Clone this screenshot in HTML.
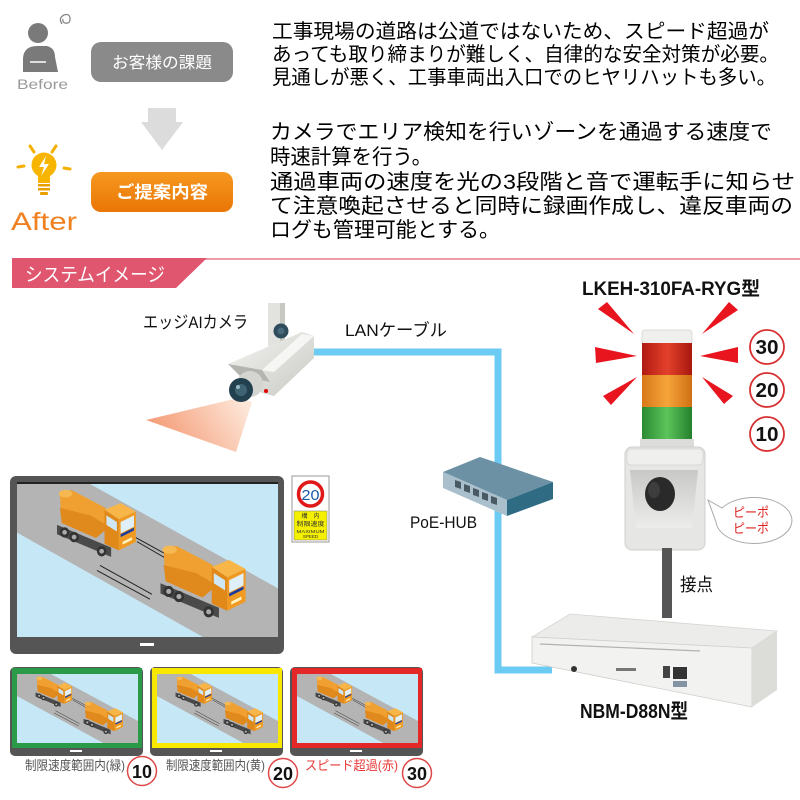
<!DOCTYPE html>
<html><head><meta charset="utf-8"><style>
html,body{margin:0;padding:0;background:#fff;width:800px;height:800px;overflow:hidden}
svg{display:block}
text{font-family:"Liberation Sans","Noto Sans CJK JP",sans-serif}
</style></head><body>
<svg width="800" height="800" viewBox="0 0 800 800" xmlns="http://www.w3.org/2000/svg">
<defs>
<linearGradient id="og" x1="0" y1="0" x2="0" y2="1"><stop offset="0" stop-color="#f6981f"/><stop offset="1" stop-color="#ea7606"/></linearGradient>
<linearGradient id="cone" x1="240" y1="398" x2="170" y2="445" gradientUnits="userSpaceOnUse"><stop offset="0" stop-color="#fde6d8"/><stop offset="1" stop-color="#f5a07c"/></linearGradient>
<linearGradient id="camb" x1="0" y1="0" x2="1" y2="1"><stop offset="0" stop-color="#f4f4f2"/><stop offset="1" stop-color="#c9c9c4"/></linearGradient>
<linearGradient id="red" x1="0" y1="0" x2="1" y2="0"><stop offset="0" stop-color="#b01a10"/><stop offset=".5" stop-color="#e4412c"/><stop offset="1" stop-color="#a8180e"/></linearGradient>
<linearGradient id="org" x1="0" y1="0" x2="1" y2="0"><stop offset="0" stop-color="#d8781a"/><stop offset=".5" stop-color="#f6a43a"/><stop offset="1" stop-color="#d07014"/></linearGradient>
<linearGradient id="grn" x1="0" y1="0" x2="1" y2="0"><stop offset="0" stop-color="#2a8a32"/><stop offset=".5" stop-color="#5cc45a"/><stop offset="1" stop-color="#24802c"/></linearGradient>
<linearGradient id="horn" x1="0" y1="0" x2="0" y2="1"><stop offset="0" stop-color="#c8c8c6"/><stop offset="1" stop-color="#ececea"/></linearGradient>
<symbol id="truck" viewBox="0 0 90 80">
  <polygon points="5,38 62,62 62,72 5,48" fill="#4a4a4a"/>
  <ellipse cx="13" cy="46" rx="5" ry="5.5" fill="#333"/><ellipse cx="13" cy="46" rx="2.5" ry="2.5" fill="#aaa"/>
  <ellipse cx="23" cy="51" rx="5" ry="5.5" fill="#333"/><ellipse cx="23" cy="51" rx="2.5" ry="2.5" fill="#aaa"/>
  <ellipse cx="52" cy="66" rx="5" ry="5.5" fill="#333"/><ellipse cx="52" cy="66" rx="2.5" ry="2.5" fill="#aaa"/>
  <polygon points="8,6 20,1 56,20 60,40 46,52 10,36" fill="#f0a030"/>
  <polygon points="10,36 46,52 60,40 40,28 8,20" fill="#e08a1e"/>
  <ellipse cx="14" cy="5" rx="7" ry="4" fill="#f6b850"/>
  <polygon points="55,22 72,15 88,24 70,32" fill="#f8b648"/>
  <polygon points="70,32 88,24 88,56 70,65" fill="#f09a22"/>
  <polygon points="55,22 70,32 70,65 55,58" fill="#e08818"/>
  <polygon points="72,35 86,28 86,40 72,47" fill="#e0f0fa"/>
  <polygon points="57,28 68,35 68,45 57,38" fill="#cfe6f4"/>
  <polygon points="72,48 86,41 86,44 72,51" fill="#1d3c9c"/>
  <polygon points="74,56 84,51 84,54 74,59" fill="#fff3c0"/>
</symbol>
<symbol id="scene" viewBox="0 0 261 154" preserveAspectRatio="none">
  <rect x="0" y="0" width="261" height="154" fill="#c6e8f6"/>
  <polygon points="0,0 73,0 261,105 261,154 186,154 0,49" fill="#b4b4b4"/>
  <use href="#truck" x="35" y="5" width="86" height="76"/>
  <line x1="119" y1="54" x2="173" y2="84" stroke="#222" stroke-width="1"/>
  <line x1="120" y1="58" x2="168" y2="86" stroke="#222" stroke-width="1"/>
  <line x1="83" y1="82" x2="135" y2="111" stroke="#222" stroke-width="1"/>
  <line x1="80" y1="87" x2="133" y2="116" stroke="#222" stroke-width="1"/>
  <use href="#truck" x="138" y="61" width="93" height="82"/>
</symbol>
</defs>

<!-- Before / After -->
<circle cx="38" cy="33" r="10" fill="#7a7a7a"/>
<path d="M23,72 L23,58 Q24,46 37,46 L47,46 Q55,48 55,57 L58,72 Z" fill="#7a7a7a"/>
<path d="M30,62 L46,62" stroke="#fff" stroke-width="1.5"/>
<path d="M47,45 L50,36" stroke="#fff" stroke-width="2"/>
<path d="M62,24 q-4,-6 2,-9 q6,-2 6,4 q0,5 -5,4 q-3,-1 -2,-4" fill="none" stroke="#888" stroke-width="1.3"/>
<text x="17" y="89" font-size="14" fill="#9a9a9a" textLength="51" lengthAdjust="spacingAndGlyphs">Before</text>
<rect x="91" y="42" width="142" height="40" rx="10" fill="#8a8a8a"/>
<text x="162" y="68" font-size="16" fill="#fff" text-anchor="middle" textLength="100" lengthAdjust="spacingAndGlyphs">お客様の課題</text>
<polygon points="148,108 176,108 176,122 183,122 162,150 141,122 148,122" fill="#dcdcdc"/>
<g stroke="#f4b000" stroke-width="3" stroke-linecap="round">
<line x1="30" y1="146" x2="34" y2="152"/><line x1="56" y1="146" x2="52" y2="152"/>
<line x1="18" y1="167" x2="24" y2="166"/><line x1="64" y1="168" x2="70" y2="169"/>
</g>
<circle cx="44" cy="165" r="12.5" fill="#f7b500"/>
<rect x="38" y="173" width="12" height="10" fill="#f7b500"/>
<rect x="38" y="184" width="12" height="2.5" fill="#e8a000"/>
<rect x="38" y="188" width="12" height="2.5" fill="#e8a000"/>
<rect x="40" y="192" width="8" height="3" rx="1" fill="#e8a000"/>
<polygon points="46,156 39,167 44,167 41,176 49,164 44,164" fill="#fff"/>
<text x="11" y="230" font-size="25" fill="#f08020" textLength="66" lengthAdjust="spacingAndGlyphs">After</text>
<rect x="91" y="172" width="142" height="40" rx="10" fill="url(#og)"/>
<text x="162" y="198" font-size="17" font-weight="bold" fill="#fff" text-anchor="middle" textLength="92" lengthAdjust="spacingAndGlyphs">ご提案内容</text>

<!-- paragraphs -->
<g font-size="20" fill="#000">
<text x="272" y="38" textLength="497" lengthAdjust="spacingAndGlyphs">工事現場の道路は公道ではないため、スピード超過が</text>
<text x="272" y="61" textLength="507" lengthAdjust="spacingAndGlyphs">あっても取り締まりが難しく、自律的な安全対策が必要。</text>
<text x="272" y="84" textLength="504" lengthAdjust="spacingAndGlyphs">見通しが悪く、工事車両出入口でのヒヤリハットも多い。</text>
</g>
<g font-size="21" fill="#000">
<text x="270" y="139" textLength="502" lengthAdjust="spacingAndGlyphs">カメラでエリア検知を行いゾーンを通過する速度で</text>
<text x="270" y="164" textLength="162" lengthAdjust="spacingAndGlyphs">時速計算を行う。</text>
<text x="270" y="189" textLength="525" lengthAdjust="spacingAndGlyphs">通過車両の速度を光の3段階と音で運転手に知らせ</text>
<text x="270" y="213" textLength="523" lengthAdjust="spacingAndGlyphs">て注意喚起させると同時に録画作成し、違反車両の</text>
<text x="270" y="237" textLength="230" lengthAdjust="spacingAndGlyphs">ログも管理可能とする。</text>
</g>

<!-- header band -->
<line x1="180" y1="259" x2="800" y2="259" stroke="#e67d8e" stroke-width="1.5"/>
<polygon points="12,258 207,258 176,288 12,288" fill="#e0566f"/>
<text x="25" y="281" font-size="19" fill="#fff" textLength="140" lengthAdjust="spacingAndGlyphs">システムイメージ</text>

<!-- LAN cable -->
<g fill="none" stroke="#6ccbf2" stroke-width="7">
<polyline points="312,352 498,352 498,470"/>
<polyline points="498,510 498,670 552,670"/>
</g>
<text x="345" y="336" font-size="17" fill="#111" textLength="102" lengthAdjust="spacingAndGlyphs">LANケーブル</text>

<!-- camera -->
<polygon points="238,398 252,402 236,452 146,420" fill="url(#cone)"/>
<rect x="268" y="303" width="17" height="44" fill="#e2e2de"/>
<rect x="280" y="303" width="5" height="44" fill="#c8c8c2"/>
<circle cx="281" cy="331" r="7.5" fill="#2e4c5c"/><circle cx="281" cy="331" r="3.5" fill="#47697a"/>
<polygon points="228,364 302,332 314,336 314,358 274,396 262,393" fill="url(#camb)"/>
<polygon points="228,364 262,370 270,382 240,376" fill="#b4b4b0"/>
<polygon points="262,370 302,334 314,336 274,372" fill="#f6f6f4"/>
<circle cx="250" cy="384" r="13" fill="#d4d4d0"/>
<circle cx="241" cy="390" r="12" fill="#23404f"/>
<circle cx="241" cy="390" r="6" fill="#3e6474"/>
<circle cx="238" cy="387" r="2" fill="#9bb8c4"/>
<circle cx="266" cy="391" r="2" fill="#e00000"/>
<text x="143" y="328" font-size="17" fill="#111" textLength="105" lengthAdjust="spacingAndGlyphs">エッジAIカメラ</text>

<!-- hub -->
<polygon points="443,472 480,457 553,482 507,500" fill="#6c90a4"/>
<polygon points="443,472 507,500 507,516 443,488" fill="#a9c0cc"/>
<polygon points="507,500 553,482 553,499 507,516" fill="#2f6c84"/>
<g fill="#4a5a64">
<polygon points="455,480 461,482 461,489 455,487"/>
<polygon points="464,484 470,486 470,493 464,491"/>
<polygon points="473,488 479,490 479,497 473,495"/>
<polygon points="482,492 488,494 488,501 482,499"/>
<polygon points="491,496 497,498 497,505 491,503"/>
</g>
<text x="410" y="528" font-size="17" fill="#111" textLength="67" lengthAdjust="spacingAndGlyphs">PoE-HUB</text>

<!-- monitor big -->
<rect x="10" y="476" width="274" height="178" rx="6" fill="#555"/>
<rect x="17" y="482" width="261" height="2" fill="#222"/>
<use href="#scene" x="17" y="484" width="261" height="153"/>
<rect x="140" y="643" width="14" height="3" fill="#fff"/>

<!-- sign -->
<rect x="292" y="476" width="37" height="66" fill="#fff" stroke="#999" stroke-width="1"/>
<circle cx="310.5" cy="494" r="12" fill="#fff" stroke="#e01818" stroke-width="3.5"/>
<text x="310.5" y="500" font-size="15" fill="#1a5aaa" text-anchor="middle" textLength="18" lengthAdjust="spacingAndGlyphs">20</text>
<rect x="294" y="511" width="33" height="29" fill="#f5f000" stroke="#777" stroke-width=".5"/>
<g font-size="6" fill="#333" text-anchor="middle">
<text x="310.5" y="518">構　内</text>
<text x="310.5" y="526" textLength="28" lengthAdjust="spacingAndGlyphs">制限速度</text>
<text x="310.5" y="533" font-size="4.5" textLength="28" lengthAdjust="spacingAndGlyphs">MAXIMUM</text>
<text x="310.5" y="538" font-size="4.5">SPEED</text>
</g>

<!-- small monitors -->
<g>
<rect x="10" y="667" width="133" height="89" rx="5" fill="#555"/>
<rect x="12" y="668" width="130" height="80" fill="#2a9a48"/>
<use href="#scene" x="17" y="674" width="121" height="69"/>
<rect x="70" y="750" width="12" height="2" fill="#fff"/>
</g>
<g>
<rect x="150" y="667" width="133" height="89" rx="5" fill="#555"/>
<rect x="152" y="668" width="130" height="80" fill="#f8e800"/>
<use href="#scene" x="157" y="674" width="121" height="69"/>
<rect x="210" y="750" width="12" height="2" fill="#fff"/>
</g>
<g>
<rect x="290" y="667" width="133" height="89" rx="5" fill="#555"/>
<rect x="292" y="668" width="130" height="80" fill="#e42828"/>
<use href="#scene" x="297" y="674" width="121" height="69"/>
<rect x="350" y="750" width="12" height="2" fill="#fff"/>
</g>
<text x="25" y="770" font-size="13" fill="#555" textLength="100" lengthAdjust="spacingAndGlyphs">制限速度範囲内(緑)</text>
<text x="166" y="770" font-size="13" fill="#555" textLength="99" lengthAdjust="spacingAndGlyphs">制限速度範囲内(黄)</text>
<text x="305" y="770" font-size="13" fill="#e83838" textLength="93" lengthAdjust="spacingAndGlyphs">スピード超過(赤)</text>
<g fill="#fff" stroke="#e04848" stroke-width="1.5">
<circle cx="142" cy="771" r="14.5"/><circle cx="283" cy="773" r="14.5"/><circle cx="417" cy="773" r="14.5"/>
</g>
<g font-size="18" font-weight="bold" fill="#111" text-anchor="middle">
<text x="142" y="778" textLength="20" lengthAdjust="spacingAndGlyphs">10</text>
<text x="283" y="780" textLength="20" lengthAdjust="spacingAndGlyphs">20</text>
<text x="417" y="780" textLength="20" lengthAdjust="spacingAndGlyphs">30</text>
</g>

<!-- light tower -->
<text x="582" y="295" font-size="19" font-weight="bold" fill="#111" textLength="178" lengthAdjust="spacingAndGlyphs">LKEH-310FA-RYG型</text>
<g fill="#e8141e">
<polygon points="598,309 607,302 634,334"/>
<polygon points="595,347 596,363 637,356"/>
<polygon points="603,396 611,405 637,377"/>
<polygon points="729,302 738,310 702,334"/>
<polygon points="738,347 738,363 700,356"/>
<polygon points="724,404 733,396 702,377"/>
</g>
<rect x="642" y="330" width="50" height="14" rx="3" fill="#efefed" stroke="#d4d4d0" stroke-width=".8"/>
<rect x="642" y="343" width="50" height="33" fill="url(#red)"/>
<rect x="642" y="375" width="50" height="32" fill="url(#org)"/>
<rect x="642" y="407" width="50" height="33" fill="url(#grn)"/>
<rect x="640" y="439" width="54" height="9" fill="#dcdcda"/>
<rect x="625" y="447" width="80" height="103" rx="7" fill="#e6e6e4" stroke="#cfcfcb" stroke-width="1"/>
<rect x="627" y="449" width="76" height="16" rx="4" fill="#efefed" stroke="#d4d4d0" stroke-width=".8"/>
<path d="M630,470 L698,470 L692,528 L636,528 Z" fill="url(#horn)"/>
<ellipse cx="660" cy="494" rx="15" ry="17" fill="#2a2a2a"/>
<ellipse cx="654" cy="490" rx="6" ry="8" fill="#3d3d3d"/>
<g fill="#fff" stroke="#d83030" stroke-width="1.8">
<circle cx="767" cy="347" r="17"/><circle cx="767" cy="390" r="17"/><circle cx="767" cy="434" r="17"/>
</g>
<g font-size="20" font-weight="bold" fill="#111" text-anchor="middle">
<text x="767" y="354" textLength="23" lengthAdjust="spacingAndGlyphs">30</text>
<text x="767" y="397" textLength="23" lengthAdjust="spacingAndGlyphs">20</text>
<text x="767" y="441" textLength="23" lengthAdjust="spacingAndGlyphs">10</text>
</g>
<path d="M708,500 L722,508 A38,23 0 1 1 716,522 Z" fill="#fff" stroke="#aaa" stroke-width="1"/>
<g font-size="13" fill="#e02020">
<text x="733" y="517" textLength="36" lengthAdjust="spacingAndGlyphs">ピーポ</text>
<text x="733" y="533" textLength="36" lengthAdjust="spacingAndGlyphs">ピーポ</text>
</g>

<!-- contact wire -->
<rect x="662" y="548" width="10" height="70" fill="#555"/>
<text x="680" y="591" font-size="18" fill="#111" textLength="33" lengthAdjust="spacingAndGlyphs">接点</text>

<!-- NBM device -->
<polygon points="532,637 570,614 777,631 752,648" fill="#ececea" stroke="#d4d4d0" stroke-width=".8"/>
<polygon points="532,637 752,648 752,707 532,663" fill="#f2f2f0" stroke="#d0d0cc" stroke-width=".8"/>
<polygon points="752,648 777,631 777,690 752,707" fill="#dcdcd8"/>
<line x1="540" y1="644" x2="700" y2="651" stroke="#b0b0ac" stroke-width="1.2"/>
<circle cx="574" cy="669" r="3" fill="#333"/>
<rect x="616" y="668" width="20" height="3" fill="#777"/>
<rect x="663" y="666" width="7" height="12" fill="#444"/>
<rect x="673" y="667" width="14" height="12" fill="#333"/>
<rect x="673" y="681" width="14" height="6" fill="#8494a4"/>
<text x="580" y="718" font-size="20" font-weight="bold" fill="#111" textLength="108" lengthAdjust="spacingAndGlyphs">NBM-D88N型</text>
</svg>
</body></html>
